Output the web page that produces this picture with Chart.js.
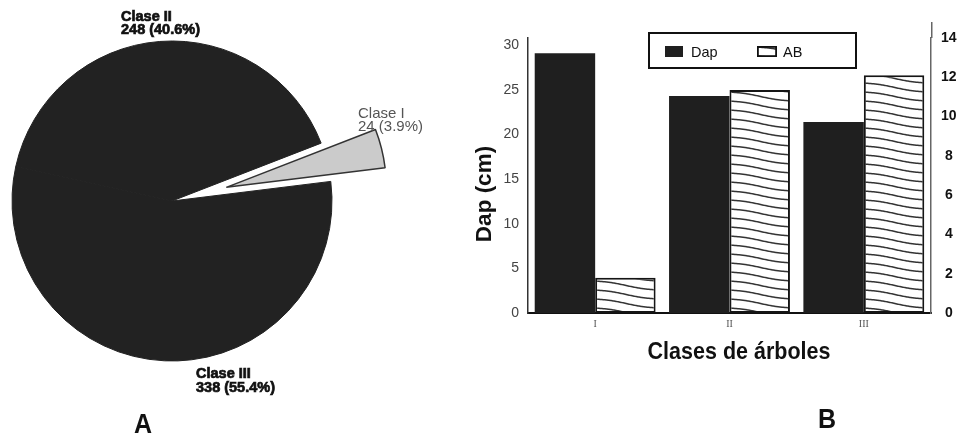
<!DOCTYPE html>
<html>
<head>
<meta charset="utf-8">
<script src="https://cdn.jsdelivr.net/npm/chart.js@4.4.1/dist/chart.umd.min.js"></script>
<style>
  html, body { margin: 0; padding: 0; background: #fff; width: 957px; height: 436px; overflow: hidden; }
  canvas { position: absolute; top: 0; }
  #pie { left: 0; }
  #bars { left: 440px; }
</style>
</head>
<body>
<canvas id="pie" width="440" height="436"></canvas>
<canvas id="bars" width="517" height="436"></canvas>
<script>
// ---- Panel A: trees per diameter class ----
const pieLabels = ['Clase I', 'Clase III', 'Clase II'];
const pieCounts = [24, 338, 248];
const pieExplode = [56, 0, 0];   // pull-out distance of each slice, px

// ---- Panel B: mean diameter and basal area per class ----
const barCategories = ['I', 'II', 'III'];
const dapValues = [29.1, 24.3, 21.4];
const abValues = [1.8, 11.35, 12.1];
const dapTicks = [0, 5, 10, 15, 20, 25, 30];
const abTicks = [0, 2, 4, 6, 8, 10, 12, 14];

const yTitle = 'Dap (cm)';
const xTitle = 'Clases de árboles';

const SANS = '"Liberation Sans", Arial, Helvetica, sans-serif';

const pieTotal = pieCounts.reduce((a, b) => a + b, 0);
const pieShares = pieCounts.map(v => Math.floor(v / pieTotal * 1000) / 10);

function stretchedText(c, text, x, y, sy) {
  c.save();
  c.translate(x, y);
  c.scale(1, sy);
  c.fillText(text, 0, 0);
  c.restore();
}

// label placement for each slice: [x, baseline of first line, heavy?]
const pieLabelPlaces = [
  [358, 117.5, false],
  [196, 378, true],
  [121, 20.5, true]
];

// moves exploded slices outward along their bisector, keeping their radius
const explodeSlices = {
  id: 'explodeSlices',
  afterDatasetsUpdate(chart) {
    const meta = chart.getDatasetMeta(0);
    meta.data.forEach((arc, i) => {
      const d = pieExplode[i] || 0;
      if (!d) return;
      const mid = (arc.startAngle + arc.endAngle) / 2;
      arc.x += Math.cos(mid) * d;
      arc.y += Math.sin(mid) * d;
    });
  }
};

const pieText = {
  id: 'pieText',
  afterDraw(chart) {
    const c = chart.ctx;
    c.save();
    c.textBaseline = 'alphabetic';
    c.textAlign = 'left';
    pieLabels.forEach((name, i) => {
      const [x, y, heavy] = pieLabelPlaces[i];
      const lines = [name, pieCounts[i] + ' (' + pieShares[i].toFixed(1) + '%)'];
      if (heavy) {
        c.font = 'bold 14.5px ' + SANS;
        c.fillStyle = '#111';
        c.strokeStyle = '#111';
        c.lineWidth = 0.7;
      } else {
        c.font = '15px ' + SANS;
        c.fillStyle = '#555';
      }
      lines.forEach((t, j) => {
        c.fillText(t, x, y + j * 13.5);
        if (heavy) c.strokeText(t, x, y + j * 13.5);
      });
    });
    c.font = 'bold 25px ' + SANS;
    c.fillStyle = '#111';
    stretchedText(c, 'A', 134, 433, 1.12);
    c.restore();
  }
};

new Chart(document.getElementById('pie'), {
  type: 'pie',
  data: {
    labels: pieLabels,
    datasets: [{
      data: pieCounts,
      backgroundColor: ['#cbcbcb', '#222222', '#222222'],
      borderColor: ['#333333', '#222222', '#222222'],
      borderWidth: [1.5, 1, 1],
      hoverOffset: 0
    }]
  },
  options: {
    responsive: false,
    animation: false,
    events: [],
    rotation: 68.8,
    radius: 160,
    layout: { padding: { left: 0, top: 0, right: 96, bottom: 34 } },
    plugins: { legend: { display: false }, tooltip: { enabled: false } }
  },
  plugins: [explodeSlices, pieText]
});

// wavy hatch used for the AB bars
const waveTile = (() => {
  const w = 62, h = 9;
  const t = document.createElement('canvas');
  t.width = w; t.height = h;
  const c = t.getContext('2d');
  c.fillStyle = '#fff';
  c.fillRect(0, 0, w, h);
  c.strokeStyle = '#333';
  c.lineWidth = 1.5;
  for (let k = -2; k <= 2; k++) {
    c.beginPath();
    for (let x = 0; x <= w; x++) {
      const u = x / w;
      const y = 2 + k * h + h * (u - Math.sin(2 * Math.PI * u) / (2 * Math.PI) * 0.5);
      if (x === 0) c.moveTo(x, y); else c.lineTo(x, y);
    }
    c.stroke();
  }
  return t;
})();

function wavePattern(c, originX) {
  const p = c.createPattern(waveTile, 'repeat');
  p.setTransform(new DOMMatrix().translate(originX, 0));
  return p;
}

function abFill(ctx) {
  const xs = ctx.chart.scales && ctx.chart.scales.x;
  const origin = xs ? xs.getPixelForValue(ctx.dataIndex) : 0;
  return wavePattern(ctx.chart.ctx, origin);
}

const legendBox = {
  id: 'legendBox',
  afterDraw(chart) {
    const c = chart.ctx;
    const ds = chart.data.datasets;
    c.save();
    c.strokeStyle = '#111';
    c.lineWidth = 2;
    c.strokeRect(209, 33, 207, 35);
    // Dap swatch
    c.fillStyle = ds[0].backgroundColor;
    c.fillRect(225, 46, 18, 11);
    // AB swatch
    c.fillStyle = wavePattern(c, 317);
    c.fillRect(317, 46, 20, 11);
    c.lineWidth = 1.8;
    c.strokeRect(317.9, 46.9, 18.2, 9.2);
    c.fillStyle = '#111';
    c.font = '14.5px ' + SANS;
    c.textBaseline = 'alphabetic';
    c.fillText(ds[0].label, 251, 56.5);
    c.fillText(ds[1].label, 343, 56.5);
    c.restore();
  }
};

const axisTitles = {
  id: 'axisTitles',
  afterDraw(chart) {
    const c = chart.ctx;
    const area = chart.chartArea;
    // right axis line runs a little above the plot
    c.save();
    c.strokeStyle = '#666';
    c.lineWidth = 1.5;
    c.beginPath();
    c.moveTo(area.right + 0.75, area.top);
    c.lineTo(area.right + 0.75, area.top - 16);
    c.stroke();
    c.restore();

    c.save();
    c.fillStyle = '#111';
    c.font = 'bold 22.5px ' + SANS;
    c.textAlign = 'center';
    c.textBaseline = 'middle';
    c.translate(45, 194);
    c.rotate(-Math.PI / 2);
    c.fillText(yTitle, 0, 0);
    c.restore();

    c.save();
    c.fillStyle = '#111';
    c.textAlign = 'center';
    c.textBaseline = 'alphabetic';
    c.font = 'bold 21.5px ' + SANS;
    stretchedText(c, xTitle, 299, 359, 1.08);
    c.textAlign = 'left';
    c.font = 'bold 25px ' + SANS;
    stretchedText(c, 'B', 378, 428, 1.12);
    c.restore();
  }
};

new Chart(document.getElementById('bars'), {
  type: 'bar',
  data: {
    labels: barCategories,
    datasets: [
      {
        label: 'Dap',
        data: dapValues,
        yAxisID: 'y',
        backgroundColor: '#1f1f1f',
        borderWidth: 0,
        categoryPercentage: 0.9,
        barPercentage: 1.0
      },
      {
        label: 'AB',
        data: abValues,
        yAxisID: 'y1',
        backgroundColor: abFill,
        borderColor: '#151515',
        borderWidth: 2,
        borderSkipped: false,
        categoryPercentage: 0.9,
        barPercentage: 1.0
      }
    ]
  },
  options: {
    responsive: false,
    animation: false,
    events: [],
    layout: { padding: { top: 38, left: 0, right: 0, bottom: 0 } },
    plugins: { legend: { display: false }, tooltip: { enabled: false } },
    scales: {
      x: {
        grid: { display: false, drawTicks: false },
        border: { display: true, color: '#111', width: 2 },
        ticks: { color: '#555', padding: 5, font: { family: '"Liberation Serif", serif', size: 10 } },
        afterFit: s => { s.height = 123; }
      },
      y: {
        position: 'left',
        min: 0,
        max: 30.8,
        grid: { display: false, drawTicks: false },
        border: { display: true, color: '#333', width: 1.5 },
        ticks: { color: '#444', padding: 9, font: { family: SANS, size: 14 } },
        afterBuildTicks: axis => { axis.ticks = dapTicks.map(value => ({ value })); },
        afterFit: s => { s.width = 88; }
      },
      y1: {
        position: 'right',
        min: 0,
        max: 14,
        grid: { display: false, drawTicks: false },
        border: { display: true, color: '#666', width: 1.5 },
        ticks: { color: '#111', padding: 10, crossAlign: 'center', font: { family: SANS, size: 14, weight: 'bold' } },
        afterBuildTicks: axis => { axis.ticks = abTicks.map(value => ({ value })); },
        afterFit: s => { s.width = 26; }
      }
    }
  },
  plugins: [legendBox, axisTitles]
});
</script>
</body>
</html>
